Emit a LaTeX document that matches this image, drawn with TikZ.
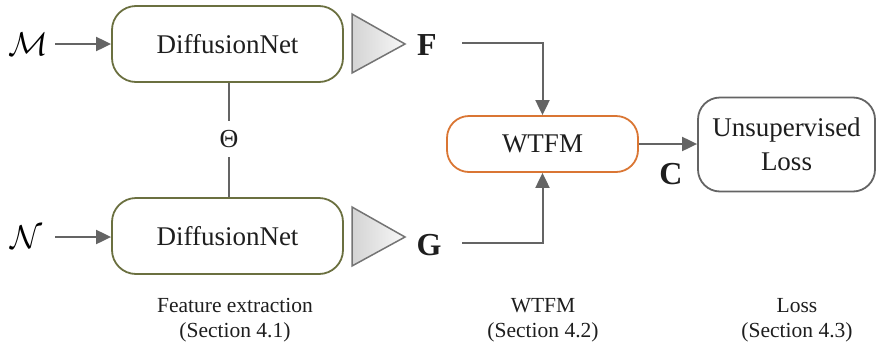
\RequirePackage{fix-cm}
\documentclass[tikz,border=0pt]{standalone}
\usepackage{fontspec}
\setmainfont{Liberation Serif}
\usetikzlibrary{arrows.meta,calc}

\definecolor{olivebox}{RGB}{107,112,64}
\definecolor{orangebox}{RGB}{218,118,52}
\definecolor{linegray}{RGB}{100,100,100}
\definecolor{inkdark}{RGB}{30,30,30}

\tikzset{
  netbox/.style={draw=olivebox, line width=1.8pt, rounded corners=24pt,
    minimum width=231pt, minimum height=76pt, inner sep=0pt,
    text=inkdark, font=\fontsize{27}{32}\selectfont},
  wtfmbox/.style={draw=orangebox, line width=1.8pt, rounded corners=22pt,
    minimum width=191pt, minimum height=56pt, inner sep=0pt,
    text=inkdark, font=\fontsize{27}{32}\selectfont},
  lossbox/.style={draw=linegray, line width=1.8pt, rounded corners=22pt,
    minimum width=177pt, minimum height=94pt, inner sep=0pt, align=center,
    text=inkdark, font=\fontsize{27}{34}\selectfont},
  conn/.style={draw=linegray, line width=2pt},
  arr/.style={conn, -{Triangle[length=15pt,width=14pt]}},
  featlbl/.style={text=inkdark, font=\fontsize{32}{36}\selectfont\bfseries, inner sep=0pt},
  shapelbl/.style={text=black, font=\fontsize{33}{38}\selectfont, inner sep=0pt},
  caption/.style={text=inkdark, align=center, font=\fontsize{21.5}{24.5}\selectfont},
  tri/.style={draw=linegray!90, line width=1.5pt, line join=miter,
    left color=black!17, right color=black!3},
}

\begin{document}
\begin{tikzpicture}[x=1pt, y=-1pt]
  \useasboundingbox (0,0) rectangle (879,354);

  % feature extractors with shared weights
  \node[netbox] (dn1) at (227.5,44) {DiffusionNet};
  \node[netbox] (dn2) at (227.5,236) {DiffusionNet};
  \node[text=inkdark, font=\fontsize{26}{27}\selectfont, inner sep=0pt] (theta) at (229,139) {Θ};
  \coordinate (thtop) at (229,121);
  \coordinate (thbot) at (229,157);
  \draw[conn] (dn1.south -| thtop) -- (thtop);
  \draw[conn] (thbot) -- (dn2.north -| thbot);

  % input shapes
  \node[shapelbl] (M) at (28,44) {$\mathcal{M}$};
  \node[shapelbl] (N) at (26,237) {$\mathcal{N}$};
  \coordinate (mstart) at (55,44);
  \coordinate (nstart) at (55,237);
  \draw[arr] (mstart) -- (dn1.west |- mstart);
  \draw[arr] (nstart) -- (dn2.west |- nstart);

  % output triangles
  \draw[tri] (352,14) -- (405,44) -- (352,73) -- cycle;
  \draw[tri] (352,207) -- (405,237) -- (352,266) -- cycle;

  % features
  \node[featlbl] (F) at (427,45) {F};
  \node[featlbl] (G) at (429,245) {G};

  % functional map block and loss
  \node[wtfmbox] (wtfm) at (542.5,144) {WTFM};
  \node[lossbox] (loss) at (786.5,144.5) {Unsupervised\\Loss};
  \node[featlbl] (C) at (671,174) {C};

  \coordinate (fstart) at (462,43);
  \coordinate (gstart) at (462,243);
  \draw[arr] (fstart) -| (wtfm.north);
  \draw[arr] (gstart) -| (wtfm.south);
  \draw[arr] (wtfm.east) -- (loss.west |- wtfm.east);

  % stage captions
  \node[caption] (cap1) at (235,320) {Feature extraction\\(Section 4.1)};
  \node[caption] (cap2) at (543,320) {WTFM\\(Section 4.2)};
  \node[caption] (cap3) at (797,320) {Loss\\(Section 4.3)};
\end{tikzpicture}
\end{document}
